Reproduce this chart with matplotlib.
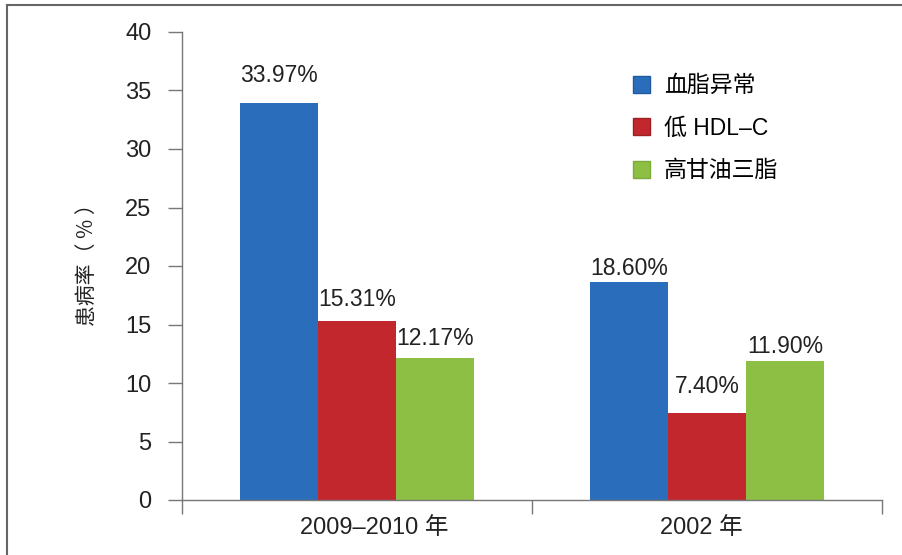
import matplotlib
matplotlib.use("Agg")
import matplotlib.pyplot as plt
from matplotlib.lines import Line2D
import numpy as np

plt.rcParams["font.family"] = ["Liberation Sans", "Noto Sans CJK SC"]

groups = ["2009–2010 年", "2002 年"]
series = ["血脂异常", "低 HDL–C", "高甘油三脂"]
values = [
    [33.97, 18.60],
    [15.31, 7.40],
    [12.17, 11.90],
]
labels = [
    ["33.97%", "18.60%"],
    ["15.31%", "7.40%"],
    ["12.17%", "11.90%"],
]
colors = ["#2a6ebb", "#c1272d", "#8dbf45"]
edges = ["#1f5a9e", "#9e1f24", "#7aab3a"]
# gap (pixels) between each bar top and the centre of its label
label_gap = [[27, 14], [21, 27], [19, 14]]

fig = plt.figure(figsize=(9.02, 5.55), dpi=100)
ax = fig.add_axes([182 / 902, 55 / 555, 700 / 902, 468 / 555])

x = np.arange(len(groups))
width = 0.223
for i, (name, vals) in enumerate(zip(series, values)):
    pos = x + (i - 1) * width
    ax.bar(pos, vals, width, color=colors[i], label=name, zorder=2)
    for p, v, t, g in zip(pos, vals, labels[i], label_gap[i]):
        ax.annotate(t, (p, v), xytext=(0, g), textcoords="offset pixels",
                    ha="center", va="center", fontsize=16.5, color="#222222")

ax.set_xlim(-0.5, 1.5)
ax.set_ylim(0, 40)
ax.set_yticks(range(0, 41, 5))
ax.set_xticks([-0.5, 0.5, 1.5])
ax.set_xticklabels([])
ax.set_xticks([0.05, 0.983], minor=True)
ax.set_xticklabels(groups, minor=True, fontsize=17, color="#222222")
ax.tick_params(axis="x", which="minor", length=0, pad=12)
ax.tick_params(axis="x", which="major", length=10, width=1, color="#777777")
ax.tick_params(axis="y", length=10, width=1, color="#777777", labelsize=17,
               labelcolor="#222222", pad=12)
for s in ["top", "right"]:
    ax.spines[s].set_visible(False)
for s in ["left", "bottom"]:
    ax.spines[s].set_color("#777777")
    ax.spines[s].set_linewidth(1)

ax.set_ylabel("患病率（ % ）", fontsize=15, color="#222222",
              family=["Noto Sans CJK SC"])
ax.yaxis.set_label_coords(-84 / 700, 0.5 + 6 / 468)

leg = ax.legend(loc="upper left", bbox_to_anchor=(0.615, 0.954), frameon=False,
                fontsize=16.5, handlelength=0.75, handleheight=0.75,
                labelspacing=0.85, handletextpad=0.6)
for h, ec in zip(leg.legend_handles, edges):
    h.set_edgecolor(ec)

# thin border on the left and top of the picture
fig.add_artist(Line2D([7 / 902, 7 / 902], [0, 1 - 5 / 555], transform=fig.transFigure,
                      color="#666666", linewidth=1.5))
fig.add_artist(Line2D([7 / 902, 1], [1 - 5 / 555, 1 - 5 / 555], transform=fig.transFigure,
                      color="#666666", linewidth=1.5))

fig.savefig("out.png", dpi=100)
